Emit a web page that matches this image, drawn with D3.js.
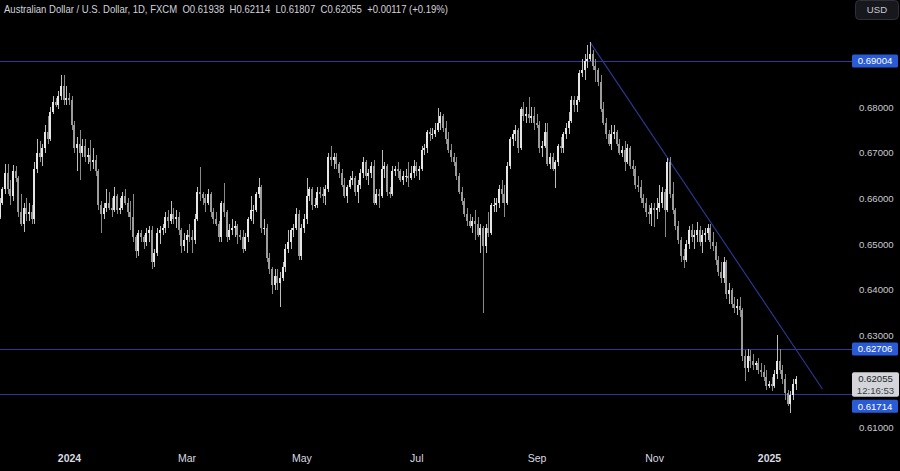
<!DOCTYPE html>
<html><head><meta charset="utf-8">
<script src="https://cdn.jsdelivr.net/npm/d3@7"></script>
<style>html,body{margin:0;padding:0;background:#000;overflow:hidden}svg{display:block}</style>
</head><body><svg id="c" width="900" height="471"></svg>
<script>
// ---- DATA (daily AUD/USD, FXCM) ----
const startDate = "2023-11-24";   // first bar, weekdays follow
const openP = [
.6560,.6590,.6620,.6655,.6620,
.6605,.6660,.6645,.6570,.6545,.6580,.6565,.6570,.6555,.6665,.6700,.6690,.6710,.6745,.6730,.6790,.6810,.6805,.6825,.6845,.6815,
.6820,.6815,.6760,.6710,.6720,.6700,.6715,.6690,.6695,.6680,.6685,.6660,.6585,.6565,.6580,.6590,.6580,.6575,.6605,.6575,.6580,.6605,.6590,
.6570,.6560,.6515,.6485,.6525,.6515,.6505,.6525,.6530,.6460,.6480,.6525,.6530,.6535,.6560,.6550,.6565,.6555,.6560,.6530,.6495,
.6510,.6520,.6515,.6510,.6555,.6615,.6610,.6600,.6590,.6610,.6570,.6555,.6545,.6515,.6590,.6570,.6515,.6530,.6535,.6540,.6520,
.6515,.6490,.6515,.6555,.6575,.6575,.6610,.6625,.6535,.6535,.6470,.6445,.6410,.6430,.6415,.6425,.6450,.6490,.6505,.6530,.6535,.6565,
.6475,.6535,.6555,.6605,.6620,.6585,.6585,.6615,.6610,.6605,.6620,.6690,.6685,.6690,.6675,.6655,.6630,.6605,.6625,.6640,.6645,.6615,.6630,
.6655,.6680,.6650,.6655,.6670,.6590,.6610,.6605,.6665,.6670,.6615,.6610,.6660,.6665,.6660,.6640,.6650,.6650,.6645,.6655,
.6670,.6660,.6665,.6705,.6710,.6745,.6740,.6740,.6750,.6765,.6780,.6755,.6730,.6705,.6690,.6680,.6650,.6615,.6595,.6565,.6550,.6540,.6550,
.6545,.6520,.6535,.6495,.6535,.6525,.6585,.6585,.6590,.6620,.6610,.6590,.6670,.6730,.6740,.6750,.6710,.6795,.6780,.6785,.6775,.6780,
.6765,.6760,.6710,.6715,.6745,.6675,.6690,.6665,.6680,.6715,.6710,.6740,.6755,.6770,.6815,.6805,.6815,.6875,.6880,.6900,.6905,
.6915,.6890,.6880,.6855,.6795,.6765,.6740,.6720,.6740,.6745,.6720,.6700,.6705,.6680,.6710,.6670,.6665,.6630,.6625,.6600,.6590,.6570,.6565,
.6580,.6575,.6580,.6590,.6615,.6575,.6680,.6610,.6575,.6540,.6510,.6475,.6465,.6500,.6530,.6515,.6520,.6530,.6505,.6520,.6525,
.6535,.6505,.6495,.6465,.6440,.6425,.6460,.6390,.6400,.6370,.6360,.6365,.6355,.6255,.6230,.6255,.6245,.6235,.6240,.6225,.6220,.6210,
.6190,.6195,.6190,.6215,.6245,.6225,.6205,.6175,.6150,.6170,.61938];
const highP = [
.6600,.6625,.6676,.6675,.6640,
.6673,.6672,.6650,.6610,.6590,.6600,.6590,.6585,.6680,.6730,.6725,.6720,.6760,.6780,.6800,.6825,.6820,.6835,.6871,.6870,.6845,
.6830,.6825,.6770,.6735,.6750,.6730,.6730,.6710,.6728,.6710,.6695,.6665,.6595,.6590,.6620,.6615,.6600,.6625,.6610,.6600,.6615,.6620,.6600,
.6595,.6610,.6520,.6530,.6530,.6520,.6535,.6540,.6540,.6490,.6535,.6540,.6545,.6570,.6575,.6595,.6580,.6575,.6570,.6535,.6525,
.6530,.6545,.6530,.6565,.6625,.6668,.6615,.6610,.6620,.6615,.6580,.6570,.6550,.6595,.6634,.6575,.6545,.6555,.6550,.6545,.6530,
.6530,.6525,.6560,.6605,.6585,.6615,.6645,.6630,.6555,.6545,.6480,.6450,.6445,.6445,.6440,.6460,.6500,.6530,.6535,.6545,.6580,.6575,
.6545,.6565,.6645,.6625,.6625,.6600,.6625,.6625,.6625,.6630,.6700,.6714,.6700,.6700,.6680,.6665,.6645,.6630,.6650,.6660,.6650,.6640,.6665,
.6690,.6685,.6665,.6680,.6685,.6620,.6620,.6706,.6680,.6675,.6625,.6670,.6670,.6680,.6665,.6660,.6665,.6680,.6670,.6685,
.6680,.6670,.6715,.6720,.6750,.6755,.6755,.6765,.6798,.6790,.6785,.6770,.6745,.6720,.6700,.6690,.6655,.6625,.6600,.6580,.6565,.6560,.6575,
.6560,.6545,.6540,.6545,.6570,.6590,.6600,.6600,.6630,.6640,.6630,.6680,.6735,.6750,.6760,.6755,.6800,.6810,.6800,.6822,.6800,.6800,
.6785,.6770,.6725,.6765,.6765,.6700,.6700,.6685,.6720,.6735,.6745,.6765,.6790,.6825,.6825,.6825,.6880,.6905,.6915,.6935,.6942,
.6925,.6905,.6885,.6870,.6810,.6775,.6750,.6760,.6760,.6750,.6730,.6715,.6725,.6720,.6715,.6685,.6670,.6650,.6640,.6610,.6600,.6585,.6590,
.6590,.6600,.6630,.6625,.6620,.6688,.6690,.6635,.6580,.6550,.6515,.6490,.6510,.6540,.6545,.6530,.6548,.6540,.6530,.6535,.6545,
.6545,.6527,.6505,.6475,.6460,.6472,.6465,.6415,.6405,.6385,.6380,.6384,.6360,.6268,.6270,.6268,.6260,.6245,.6250,.6240,.6235,.6225,
.6200,.6210,.6225,.6301,.6270,.6235,.6215,.6180,.6178,.6205,.62114];
const lowP = [
.6555,.6585,.6610,.6610,.6585,
.6595,.6635,.6560,.6540,.6526,.6550,.6550,.6545,.6545,.6655,.6680,.6670,.6700,.6720,.6725,.6785,.6800,.6795,.6815,.6805,.6805,
.6805,.6750,.6700,.6660,.6640,.6690,.6680,.6675,.6660,.6665,.6650,.6575,.6525,.6555,.6570,.6575,.6560,.6570,.6565,.6565,.6575,.6585,.6560,
.6530,.6505,.6470,.6475,.6505,.6490,.6495,.6505,.6445,.6450,.6475,.6500,.6520,.6525,.6535,.6545,.6545,.6535,.6520,.6480,.6485,
.6480,.6505,.6480,.6500,.6550,.6595,.6585,.6570,.6585,.6560,.6545,.6540,.6505,.6505,.6560,.6505,.6510,.6520,.6515,.6500,.6510,
.6480,.6485,.6505,.6550,.6545,.6570,.6600,.6525,.6520,.6460,.6435,.6390,.6400,.6400,.6362,.6420,.6440,.6480,.6490,.6515,.6530,.6465,
.6465,.6525,.6545,.6595,.6575,.6580,.6580,.6600,.6590,.6585,.6615,.6670,.6665,.6665,.6645,.6625,.6600,.6590,.6620,.6630,.6605,.6590,.6620,
.6645,.6640,.6630,.6645,.6585,.6585,.6580,.6600,.6645,.6605,.6600,.6605,.6650,.6645,.6635,.6630,.6635,.6625,.6640,.6645,
.6650,.6640,.6660,.6695,.6700,.6725,.6730,.6735,.6745,.6750,.6745,.6720,.6700,.6680,.6670,.6640,.6610,.6585,.6560,.6540,.6535,.6525,.6510,
.6515,.6480,.6349,.6480,.6515,.6520,.6570,.6570,.6580,.6590,.6560,.6585,.6665,.6715,.6725,.6700,.6705,.6770,.6765,.6765,.6765,.6750,
.6755,.6700,.6690,.6710,.6670,.6665,.6660,.6622,.6670,.6700,.6700,.6730,.6740,.6765,.6790,.6790,.6810,.6865,.6860,.6885,.6900,
.6880,.6855,.6845,.6790,.6760,.6730,.6715,.6705,.6730,.6715,.6695,.6690,.6660,.6675,.6665,.6650,.6620,.6615,.6590,.6580,.6560,.6545,.6540,
.6537,.6555,.6570,.6580,.6515,.6570,.6600,.6565,.6530,.6500,.6460,.6448,.6460,.6490,.6505,.6490,.6505,.6495,.6480,.6505,.6510,
.6490,.6485,.6455,.6430,.6415,.6415,.6380,.6370,.6360,.6350,.6345,.6340,.6245,.6200,.6220,.6230,.6225,.6225,.6215,.6210,.6200,.6180,
.6185,.6178,.6185,.6205,.6215,.6195,.6160,.6145,.6131,.6160,.61807];
const closeP = [
.6590,.6620,.6655,.6620,.6605,
.6660,.6645,.6570,.6545,.6580,.6565,.6570,.6555,.6665,.6700,.6690,.6710,.6745,.6730,.6790,.6810,.6805,.6825,.6845,.6815,.6820,
.6815,.6760,.6710,.6720,.6700,.6715,.6690,.6695,.6680,.6685,.6660,.6585,.6565,.6580,.6590,.6580,.6575,.6605,.6575,.6580,.6605,.6590,.6570,
.6560,.6515,.6485,.6525,.6515,.6505,.6525,.6530,.6460,.6480,.6525,.6530,.6535,.6560,.6550,.6565,.6555,.6560,.6530,.6495,.6510,
.6520,.6515,.6510,.6555,.6615,.6610,.6600,.6590,.6610,.6570,.6555,.6545,.6515,.6590,.6570,.6515,.6530,.6535,.6540,.6520,.6515,
.6490,.6515,.6555,.6575,.6575,.6610,.6625,.6535,.6535,.6470,.6445,.6410,.6430,.6415,.6425,.6450,.6490,.6505,.6530,.6535,.6565,.6475,
.6535,.6555,.6605,.6620,.6585,.6585,.6615,.6610,.6605,.6620,.6690,.6685,.6690,.6675,.6655,.6630,.6605,.6625,.6640,.6645,.6615,.6630,.6655,
.6680,.6650,.6655,.6670,.6590,.6610,.6605,.6665,.6670,.6615,.6610,.6660,.6665,.6660,.6640,.6650,.6650,.6645,.6655,.6670,
.6660,.6665,.6705,.6710,.6745,.6740,.6740,.6750,.6765,.6780,.6755,.6730,.6705,.6690,.6680,.6650,.6615,.6595,.6565,.6550,.6540,.6550,.6545,
.6520,.6535,.6495,.6535,.6525,.6585,.6585,.6590,.6620,.6610,.6590,.6670,.6730,.6740,.6750,.6710,.6795,.6780,.6785,.6775,.6780,.6765,
.6760,.6710,.6715,.6745,.6675,.6690,.6665,.6680,.6715,.6710,.6740,.6755,.6770,.6815,.6805,.6815,.6875,.6880,.6900,.6905,.6915,
.6890,.6880,.6855,.6795,.6765,.6740,.6720,.6740,.6745,.6720,.6700,.6705,.6680,.6710,.6670,.6665,.6630,.6625,.6600,.6590,.6570,.6565,.6580,
.6575,.6580,.6590,.6615,.6575,.6680,.6610,.6575,.6540,.6510,.6475,.6465,.6500,.6530,.6515,.6520,.6530,.6505,.6520,.6525,.6535,
.6505,.6495,.6465,.6440,.6425,.6460,.6390,.6400,.6370,.6360,.6365,.6355,.6255,.6230,.6255,.6245,.6235,.6240,.6225,.6220,.6210,.6190,
.6195,.6190,.6215,.6245,.6225,.6205,.6175,.6150,.6170,.6194,.62055];

const monthTickDates  = ["2024-01-01","2024-03-01","2024-05-01","2024-07-01","2024-09-02","2024-11-01","2025-01-01"];
const monthTickLabels = ["2024","Mar","May","Jul","Sep","Nov","2025"];
const yearTicks = ["2024","2025"];
const priceTicks = [0.61, 0.63, 0.64, 0.65, 0.66, 0.67, 0.68];
const levels = [0.69004, 0.62706, 0.61714];
const trendDates = ["2024-09-30", "2025-01-29"];
const trendPrices = [0.6942, 0.6183];
const lastPrice = 0.62055;
const countdown = "12:16:53";
const title = "Australian Dollar / U.S. Dollar, 1D, FXCM  O0.61938  H0.62114  L0.61807  C0.62055  +0.00117 (+0.19%)";
const currency = "USD";

// ---- helpers ----
const parse = d3.utcParse("%Y-%m-%d");
function weekdayIndex(str){
  const s = parse(startDate), d = parse(str);
  let n = 0;
  for (let t = new Date(s); t < d; t.setUTCDate(t.getUTCDate()+1)) {
    const w = t.getUTCDay(); if (w !== 0 && w !== 6) n++;
  }
  return n;
}
const bars = closeP.map((c,i)=>({i, o:openP[i], h:highP[i], l:lowP[i], c}));

const W = 900, H = 471, plotR = 852;
const x = d3.scaleLinear().domain([weekdayIndex("2024-01-01"), weekdayIndex("2025-01-01")]).range([69, 769]);
const y = d3.scaleLinear().domain([0.61, 0.68]).range([427, 107]);

const svg = d3.select("#c");
svg.append("rect").attr("width",W).attr("height",H).attr("fill","#000");
const FONT = "'Liberation Sans', Arial, sans-serif";
const lineCol = "#2c3a96";

const defs = svg.append("defs");
defs.append("clipPath").attr("id","plot").append("rect").attr("x",0).attr("y",0).attr("width",plotR).attr("height",H-20);
const plot = svg.append("g").attr("clip-path","url(#plot)");

// level lines
plot.selectAll("line.lvl").data(levels).join("line").attr("class","lvl")
  .attr("x1",0).attr("x2",plotR).attr("y1",d=>Math.round(y(d))+0.5).attr("y2",d=>Math.round(y(d))+0.5)
  .attr("stroke",lineCol).attr("stroke-width",1);

// trendline
plot.append("line")
  .attr("x1", x(weekdayIndex(trendDates[0]))).attr("y1", y(trendPrices[0]))
  .attr("x2", x(weekdayIndex(trendDates[1]))).attr("y2", y(trendPrices[1]))
  .attr("stroke",lineCol).attr("stroke-width",1.1);

// candles
const upCol = "#e6e6e6", dnCol = "#9c9c9c";
const cg = plot.append("g").attr("shape-rendering","crispEdges");
cg.selectAll("rect.wick").data(bars).join("rect").attr("class","wick")
  .attr("x", d=>Math.round(x(d.i))-0.5 ).attr("width",1)
  .attr("y", d=>y(d.h)).attr("height", d=>Math.max(1, y(d.l)-y(d.h)))
  .attr("fill", d=> d.c>=d.o ? "#bdbdbd" : "#8a8a8a");
cg.selectAll("rect.body").data(bars).join("rect").attr("class","body")
  .attr("x", d=>Math.round(x(d.i))-1 ).attr("width",2)
  .attr("y", d=>y(Math.max(d.o,d.c))).attr("height", d=>Math.max(1, Math.abs(y(d.o)-y(d.c))))
  .attr("fill", d=> d.c>=d.o ? upCol : dnCol);

// price axis
const yAxis = d3.axisRight(y).tickValues(priceTicks).tickFormat(d3.format(".5f")).tickSize(0).tickPadding(0);
const ya = svg.append("g").attr("transform","translate(859,0)").call(yAxis);
ya.select(".domain").remove();
ya.selectAll("text").attr("fill","#c8cad0").attr("font-family",FONT).attr("font-size","9.6px").attr("text-anchor","start");

// time axis
const xAxis = d3.axisBottom(x).tickValues(monthTickDates.map(weekdayIndex))
  .tickFormat((d,i)=>monthTickLabels[i]).tickSize(0).tickPadding(0);
const xa = svg.append("g").attr("transform","translate(0,455)").call(xAxis);
xa.select(".domain").remove();
xa.selectAll("text").attr("fill","#d8dae0").attr("font-family",FONT).attr("font-size","10.5px")
  .attr("font-weight",(d,i)=> yearTicks.includes(monthTickLabels[i]) ? "bold" : "normal");

// last price box
const lpY = y(lastPrice);
const lpTop = lpY - 6.5, lpBot = lpY + 18;
svg.append("rect").attr("x",852).attr("y",lpTop).attr("width",47).attr("height",lpBot-lpTop).attr("rx",2).attr("fill","#d3d5da");
svg.append("text").attr("x",875.5).attr("y",lpY).attr("dy","0.35em").attr("text-anchor","middle")
  .attr("font-family",FONT).attr("font-size","9.6px").attr("fill","#1c1f27").text(d3.format(".5f")(lastPrice));
svg.append("text").attr("x",875.5).attr("y",lpY+12).attr("dy","0.35em").attr("text-anchor","middle")
  .attr("font-family",FONT).attr("font-size","9.6px").attr("fill","#3a3d45").text(countdown);

// level labels (pushed below last-price box if overlapping)
levels.forEach(v=>{
  let cy = y(v);
  if (cy + 6.5 > lpTop && cy - 6.5 < lpBot) cy = lpBot + 3 + 6.5;
  svg.append("rect").attr("x",852).attr("y",cy-6.5).attr("width",46).attr("height",13).attr("rx",1.5).attr("fill","#2a5bd6");
  svg.append("text").attr("x",875).attr("y",cy).attr("dy","0.35em").attr("text-anchor","middle")
    .attr("font-family",FONT).attr("font-size","9.6px").attr("fill","#ffffff").text(d3.format(".5f")(v));
});

// currency button
svg.append("rect").attr("x",855.5).attr("y",0.5).attr("width",43).attr("height",19).attr("rx",4)
  .attr("fill","#16181d").attr("stroke","#2e313a");
svg.append("text").attr("x",877).attr("y",10).attr("dy","0.35em").attr("text-anchor","middle")
  .attr("font-family",FONT).attr("font-size","9.6px").attr("fill","#c8cad0").text(currency);

// title (single line)
svg.append("text").attr("x",4).attr("y",13).attr("font-family",FONT).attr("font-size","10.5px")
  .attr("fill","#d1d4dc").style("white-space","pre")
  .attr("textLength",444).attr("lengthAdjust","spacingAndGlyphs").text(title);
</script></body></html>
